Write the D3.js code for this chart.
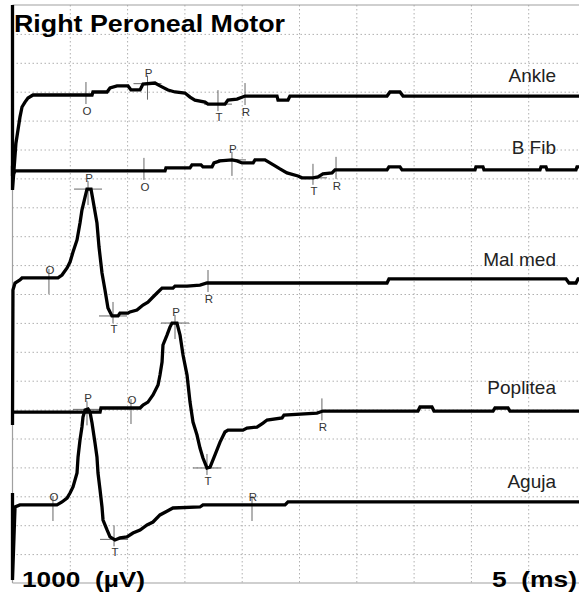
<!DOCTYPE html>
<html>
<head>
<meta charset="utf-8">
<script src="https://cdnjs.cloudflare.com/ajax/libs/d3/7.8.5/d3.min.js"></script>
<style>
  body { margin: 0; background: #fff; }
  svg { display: block; font-family: Arial, "Liberation Sans", sans-serif; }
  .grid line { stroke: #b0b0b0; stroke-dasharray: 1.5 2.5; }
  .grid .domain { display: none; }
</style>
</head>
<body>
<script>
// each trace: [ms, µV], relative to the trace baseline
const ankle = [[0,3150],[0,-3250],[0.3,-1630],[0.65,-730],[0.83,-380],[1.09,-210],[1.35,-70],[1.79,35],
  [6.94,35],[7.02,140],[8.25,140],[8.51,280],[9.12,350],[10.08,350],[10.34,210],[11.13,210],[11.39,415],
  [12.43,450],[12.87,350],[13.57,210],[14.18,140],[15.05,105],[15.49,-35],[15.92,-140],[16.8,-210],
  [17.06,-280],[18.54,-280],[18.8,-140],[19.59,-105],[20.29,0],[23.08,0],[23.17,-140],[24.04,-140],
  [24.21,0],[32.68,0],[32.94,140],[33.81,140],[34.08,0],[50,0]];
const bFib = [[0,175],[0,-175],[0.22,0],[13.31,0],[13.39,105],[15.49,105],[15.66,210],[16.45,210],
  [16.62,140],[17.41,140],[17.58,275],[18.11,345],[19.15,380],[19.59,345],[20.03,275],[21.0,275],
  [21.16,380],[22.03,380],[22.47,275],[22.91,175],[23.34,70],[23.95,-70],[24.91,-175],[25.26,-240],
  [26.22,-240],[26.66,-210],[27.09,-105],[27.88,-70],[28.14,35],[32.68,35],[32.85,140],[33.81,140],
  [33.99,35],[40.36,35],[40.44,140],[41.05,140],[41.14,35],[46.03,35],[46.12,140],[46.55,140],
  [46.64,35],[49.17,35],[49.26,140],[50,140]];
const malMed = [[0,-4910],[0.04,-240],[0.22,0],[0.65,105],[0.83,175],[3.97,175],[4.32,275],[4.76,520],
  [5.02,725],[5.28,1070],[5.63,1490],[5.89,2075],[6.06,2525],[6.33,2975],[6.5,3250],[6.85,3250],
  [7.02,2870],[7.37,2075],[7.55,1245],[7.81,345],[8.07,-240],[8.33,-865],[8.68,-1140],[9.21,-1140],
  [9.38,-1040],[10.08,-1040],[10.25,-1000],[10.86,-935],[11.39,-760],[11.82,-660],[12.26,-485],
  [12.7,-310],[13.05,-175],[14.0,-175],[14.18,-105],[15.23,-105],[16.36,-70],[16.97,0],[32.68,0],
  [32.85,140],[48.3,140],[48.56,0],[49.17,0],[49.35,140],[50,140]];
const poplitea = [[0,-35],[7.64,-35],[7.72,105],[11.13,105],[11.39,210],[11.82,310],[12.26,555],
  [12.7,900],[12.87,1245],[13.05,1695],[13.13,2285],[13.48,2630],[13.74,2905],[13.92,3045],[14.35,3045],
  [14.62,2630],[14.88,1940],[15.23,1245],[15.49,310],[15.75,-380],[16.1,-830],[16.36,-1280],
  [16.62,-1625],[16.97,-1970],[17.24,-1940],[17.67,-1520],[18.11,-1075],[18.54,-725],[18.8,-660],
  [20.11,-660],[20.46,-590],[21.33,-555],[21.86,-415],[22.21,-310],[23.52,-240],[23.69,-140],
  [26.57,-70],[27.09,0],[35.38,0],[35.56,140],[36.6,140],[36.78,0],[41.93,0],[42.1,105],[43.24,105],
  [43.41,0],[50,0]];
const aguja = [[0,415],[0,-2595],[0.22,-70],[0.65,0],[3.88,0],[4.32,105],[4.76,240],[5.02,415],
  [5.28,625],[5.63,1105],[5.72,1660],[5.89,2250],[6.06,2700],[6.15,3045],[6.33,3285],[6.59,3320],
  [6.76,3220],[6.94,2835],[7.2,2145],[7.37,1660],[7.46,1105],[7.64,520],[7.81,-70],[7.9,-520],
  [8.25,-865],[8.51,-1105],[8.94,-1210],[9.38,-1140],[9.99,-1105],[10.51,-970],[11.13,-865],
  [11.74,-690],[12.26,-590],[12.87,-345],[14.0,-105],[16.36,-70],[16.62,0],[23.78,0],[24.04,105],[50,105]];

const traceNames = ["Ankle", "B Fib", "Mal med", "Poplitea", "Aguja"];
const traceBase = [3.15, 5.74, 9.62, 14.05, 17.30];   // baseline, in divisions from the top
const markNames = ["O", "P", "T", "R"];
const markTimes = [                                   // ms
  [6.41, 11.78, 17.93, 20.29],
  [11.47, 19.15, 26.22, 28.23],
  [3.18, 6.59, 8.77, 17.06],
  [10.34, 14.18, 16.97, 27.0],
  [3.53, 6.5, 8.86, 20.9]
];
const oSide = ["below", "below", "above", "above", "above"];
const rSide = ["below", "below", "below", "below", "above"];

const title = "Right Peroneal Motor";
const ampLabel = "1000  (\u00b5V)";
const timeLabel = "5  (ms)";

const traces = [ankle, bFib, malMed, poplitea, aguja];

const W = 579, H = 594;
const svg = d3.select("body").append("svg").attr("width", W).attr("height", H);

const x = d3.scaleLinear().domain([0, 50]).range([12.5, 585.5]);
const y = d3.scaleLinear().domain([0, 20]).range([5, 583]);

// dotted grid
svg.append("g").attr("class", "grid")
   .attr("transform", "translate(0," + y(0) + ")")
   .call(d3.axisBottom(x).tickValues(d3.range(5, 50, 5)).tickSize(y(20) - y(0)).tickFormat(""));
svg.append("g").attr("class", "grid")
   .attr("transform", "translate(" + x(0) + ",0)")
   .call(d3.axisRight(y).tickValues(d3.range(1, 20)).tickSize(W - x(0)).tickFormat(""));

// frame
const frame = svg.append("g").attr("stroke", "#a0a0a0").attr("stroke-width", 1.2);
frame.append("line").attr("x1", x(0)).attr("x2", W).attr("y1", y(0)).attr("y2", y(0));
frame.append("line").attr("x1", x(0)).attr("x2", W).attr("y1", y(20)).attr("y2", y(20));
frame.append("line").attr("x1", x(0)).attr("x2", x(0)).attr("y1", y(0)).attr("y2", y(20));

function valueAt(pts, t) {
  for (let i = 1; i < pts.length; i++) {
    const a = pts[i - 1], b = pts[i];
    if (b[0] > a[0] && t >= a[0] && t <= b[0])
      return a[1] + (b[1] - a[1]) * (t - a[0]) / (b[0] - a[0]);
  }
  return 0;
}

// markers (under the traces)
const marks = svg.append("g");
traces.forEach(function(pts, i) {
  const base = traceBase[i];
  markTimes[i].forEach(function(t, j) {
    const name = markNames[j];
    const mx = x(t), my = y(base - valueAt(pts, t) / 1000);
    let side = "above";
    if (name === "T") side = "below";
    if (name === "O") side = oSide[i];
    if (name === "R") side = rSide[i];
    let top, bot;
    if (name === "P") { top = -8; bot = 16; }
    else if (name === "T") { top = -14; bot = 7; }
    else if (side === "below") { top = -13; bot = 9; }
    else { top = -9; bot = 16; }
    marks.append("line").attr("x1", mx).attr("x2", mx).attr("y1", my + top).attr("y2", my + bot)
         .attr("stroke", "#666").attr("stroke-width", 1);
    if (name === "P" || name === "T") {
      marks.append("line").attr("x1", mx - 14).attr("x2", mx + 14).attr("y1", my).attr("y2", my)
           .attr("stroke", "#666").attr("stroke-width", 1);
    }
    let ty;
    if (name === "P") ty = my - 7;
    else if (name === "T") ty = my + 17;
    else if (side === "below") ty = my + 20;
    else ty = my - 4;
    marks.append("text").attr("x", mx + 1).attr("y", ty).attr("text-anchor", "middle")
         .attr("font-size", 11.5).attr("fill", "#333").text(name);
  });
});

// traces
traces.forEach(function(pts, i) {
  const base = traceBase[i];
  const line = d3.line().x(d => x(d[0])).y(d => y(base - d[1] / 1000));
  svg.append("path").datum(pts).attr("d", line)
     .attr("fill", "none").attr("stroke", "#000").attr("stroke-width", 3.3)
     .attr("stroke-linejoin", "miter");
  svg.append("text").attr("x", 556).attr("y", y(base) - (i === 0 ? 14 : 17))
     .attr("text-anchor", "end").attr("font-size", 19).attr("fill", "#222")
     .text(traceNames[i]);
});

svg.append("text").attr("x", 14).attr("y", 32).attr("font-size", 24).attr("font-weight", "bold")
   .attr("textLength", 271).attr("lengthAdjust", "spacingAndGlyphs").text(title);
svg.append("text").attr("x", 22).attr("y", 587).attr("font-size", 22).attr("font-weight", "bold")
   .style("white-space", "pre").attr("textLength", 123).attr("lengthAdjust", "spacingAndGlyphs")
   .text(ampLabel);
svg.append("text").attr("x", 492).attr("y", 587).attr("font-size", 22).attr("font-weight", "bold")
   .style("white-space", "pre").attr("textLength", 85).attr("lengthAdjust", "spacingAndGlyphs")
   .text(timeLabel);
</script>
</body>
</html>
